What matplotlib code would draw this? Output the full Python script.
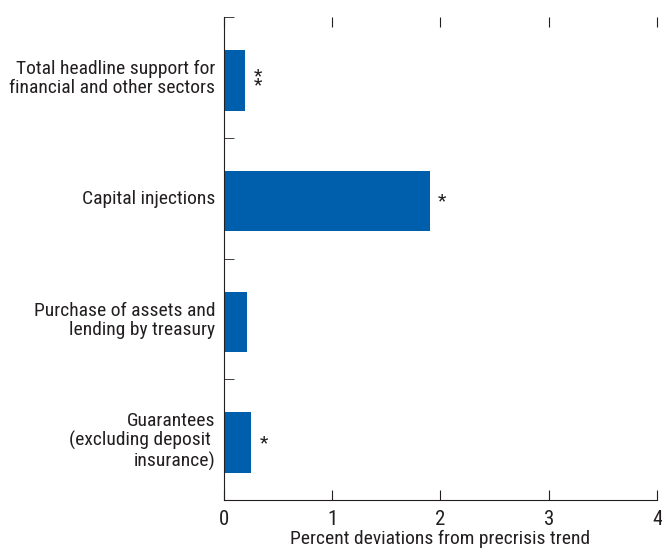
import matplotlib
matplotlib.use('Agg')
from matplotlib import pyplot as plt
import numpy as np

categories = ['Total headline support for\nfinancial and other sectors',
              'Capital injections',
              'Purchase of assets and\nlending by treasury',
              'Guarantees\n(excluding deposit \ninsurance)']
values = [0.20, 1.90, 0.21, 0.25]
stars = ['*\n*', '*', '', '*']
xticks = [0, 1, 2, 3, 4]

plt.rcParams['font.family'] = ['Roboto Condensed', 'Archivo Narrow', 'DejaVu Sans']
plt.rcParams['font.size'] = 14
ink = '#231f20'

fig = plt.figure(figsize=(6.62, 5.55), dpi=100)
ax = fig.add_axes([0.338, 0.099, 0.6545, 0.8704])

y = np.arange(len(categories))
ax.barh(y + 0.025, values, height=0.5, color='#005FAD')
ax.set_ylim(len(categories) - 0.5, -0.5)
ax.set_xlim(0, 4)

for yi, v, s in zip(y, values, stars):
    if s:
        ax.text(v + 0.08, yi + 0.03, s, ha='left', va='center', fontsize=14,
                linespacing=0.35, color=ink)

ax.spines['top'].set_visible(False)
ax.spines['right'].set_visible(False)
ax.spines['left'].set_color(ink)
ax.spines['bottom'].set_color(ink)

ax.set_xticks(xticks)
ax.tick_params(axis='x', direction='in', length=7, top=True, labeltop=False,
               color=ink, labelcolor=ink, pad=7, labelsize=15)
ax.set_yticks(y - 0.01)
ax.set_yticklabels(categories, ha='right', linespacing=1.08)
ax.tick_params(axis='y', which='major', length=0, pad=6, labelcolor=ink)
ax.set_yticks(np.arange(-0.5, len(categories) - 0.5, 1), minor=True)
ax.tick_params(axis='y', which='minor', direction='in', length=7, color=ink)

ax.set_xlabel('Percent deviations from precrisis trend', color=ink,
              fontsize=14, labelpad=1)

plt.savefig('out.png', dpi=100)
